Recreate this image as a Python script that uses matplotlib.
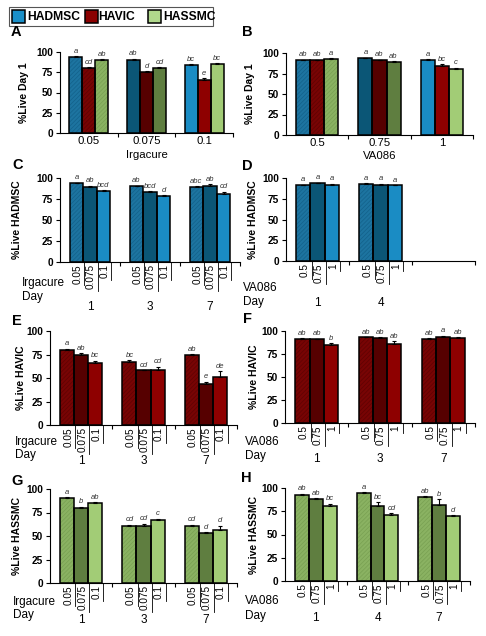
import matplotlib
matplotlib.use('Agg')
import matplotlib.pyplot as plt
import matplotlib.transforms as mtransforms
from matplotlib.patches import Rectangle

plt.rcParams['font.family'] = ['Liberation Sans', 'DejaVu Sans']
plt.rcParams['hatch.linewidth'] = 0.5

W, H = 486, 636

# ---------------- data ----------------
cell_types = ['HADMSC', 'HAVIC', 'HASSMC']
irg_conc = ['0.05', '0.075', '0.1']
va_conc = ['0.5', '0.75', '1']

# Day 1 panels: rows = concentration group, columns = cell type
a_vals = [[94, 80, 90], [90, 75, 80], [84, 66, 85]]
a_errs = [[1, 1, 1], [1.5, 1.5, 1], [1, 1.5, 1]]
a_sig = [['a', 'cd', 'ab'], ['ab', 'd', 'cd'], ['bc', 'e', 'bc']]

b_vals = [[91, 91, 93], [94, 91, 89], [92, 84, 81]]
b_errs = [[1, 1, 0.5], [0.5, 1, 1], [0.5, 2.5, 1]]
b_sig = [['ab', 'ab', 'a'], ['a', 'ab', 'ab'], ['a', 'bc', 'c']]

# time course panels: rows = day, columns = concentration
c_days = ['1', '3', '7']
c_vals = [[94, 89, 84], [90, 83, 79], [89, 91, 81]]
c_errs = [[0.5, 2, 1.5], [1, 1.5, 0.5], [1, 1.5, 2.5]]
c_sig = [['a', 'ab', 'bcd'], ['ab', 'bcd', 'd'], ['abc', 'ab', 'cd']]

d_days = ['1', '4', '']
d_vals = [[91, 94, 92], [93, 92, 91]]
d_errs = [[1, 0.5, 1], [0.5, 1, 0.5]]
d_sig = [['a', 'a', 'a'], ['a', 'a', 'a']]

e_days = ['1', '3', '7']
e_vals = [[80, 75, 66], [67, 58, 59], [74, 44, 51]]
e_errs = [[1, 1.5, 2.5], [2, 0.5, 3], [1.5, 2, 6]]
e_sig = [['a', 'ab', 'bc'], ['bc', 'cd', 'cd'], ['ab', 'e', 'de']]

f_days = ['1', '3', '7']
f_vals = [[91, 91, 85], [93, 92, 86], [91, 94, 92]]
f_errs = [[1, 0.5, 2], [0.5, 1, 3], [1.5, 1, 1.5]]
f_sig = [['ab', 'ab', 'b'], ['ab', 'ab', 'ab'], ['ab', 'a', 'ab']]

g_days = ['1', '3', '7']
g_vals = [[90, 80, 85], [61, 61, 67], [61, 53, 56]]
g_errs = [[1, 1, 1], [1, 2, 1.5], [1, 1, 5]]
g_sig = [['a', 'b', 'ab'], ['cd', 'cd', 'c'], ['cd', 'd', 'd']]

h_days = ['1', '4', '7']
h_vals = [[93, 88, 81], [95, 81, 71], [90, 82, 70]]
h_errs = [[1, 1, 2], [0.5, 4, 2], [1, 6, 1]]
h_sig = [['ab', 'ab', 'bc'], ['a', 'bc', 'cd'], ['ab', 'b', 'd']]

# shades per cell type: hatched (low conc), dark (mid), bright (high)
shades = [['#1d74a0', '#0b5676', '#1a8cc4'],
          ['#780404', '#560000', '#8e0000'],
          ['#8ab262', '#5f7e40', '#a2cc76']]
hatch_colors = ['#13618a', '#5e0202', '#78a052']
legend_colors = ['#1a8fc8', '#8b0000', '#b0d88c']

BW = 0.225

fig = plt.figure(figsize=(W / 100, H / 100), dpi=100)


def add_ax(x0, y0, x1, y1):
    return fig.add_axes([x0 / W, 1 - y1 / H, (x1 - x0) / W, (y1 - y0) / H])


def ftext(x, y, s, **kw):
    fig.text(x / W, 1 - y / H, s, **kw)


def style_axes(ax, ylabel_x, ylabel_y, ylabel):
    ax.set_xlim(-0.5, 2.5)
    ax.set_ylim(0, 100)
    ax.set_yticks([0, 25, 50, 75, 100])
    ax.set_yticklabels(['0', '25', '50', '75', '100'], fontsize=7.3, fontweight='bold')
    ax.tick_params(axis='y', length=3, width=0.8, pad=2)
    ax.set_xticks([0.5, 1.5, 2.5], minor=True)
    ax.tick_params(axis='x', which='minor', length=3, width=0.8)
    for s in ['top', 'right']:
        ax.spines[s].set_visible(False)
    for s in ['left', 'bottom']:
        ax.spines[s].set_linewidth(0.8)
    ax.patch.set_alpha(0)
    ftext(ylabel_x, ylabel_y, ylabel, rotation=90, ha='center', va='center',
          fontsize=7.5, fontweight='bold')


def draw_bars(ax, vals, errs, sig, color_of):
    for g, (gv, ge, gs) in enumerate(zip(vals, errs, sig)):
        for i in range(3):
            x = g + (i - 1) * BW
            cell, shade = color_of(g, i)
            if shade == 0:
                ax.bar(x, gv[i], BW, color=shades[cell][shade], edgecolor=hatch_colors[cell],
                       hatch='////////', linewidth=0, zorder=2)
            else:
                ax.bar(x, gv[i], BW, color=shades[cell][shade], linewidth=0, zorder=2)
            ax.bar(x, gv[i], BW, fill=False, edgecolor='black', linewidth=1.1, zorder=3)
            ax.errorbar(x, gv[i], yerr=[[0], [ge[i]]], fmt='none', ecolor='black',
                        elinewidth=0.8, capsize=1.5, capthick=0.8, zorder=4)
            ax.annotate(gs[i], (x, gv[i] + ge[i]), xytext=(0, 1), textcoords='offset points',
                        ha='center', va='bottom', fontsize=5.5, style='italic', color='#333333')


def under_labels(ax, n_filled, conc, days, box, row_name, row_x, row_y, day_y, num_y):
    x0, y0, x1, y1 = box
    ax_h = y1 - y0
    trans = mtransforms.blended_transform_factory(ax.transData, ax.transAxes)
    em = 10.0
    for g in range(n_filled):
        for i, lab in enumerate(conc):
            x = g + (i - 1) * BW
            ax.annotate(lab, (x, 0), xycoords=trans, xytext=(0.8, -1.5), textcoords='offset points',
                        rotation=90, ha='center', va='top', fontsize=7.2, annotation_clip=False)
            L = sum(0.556 if c.isdigit() else 0.278 for c in lab) * em + 4
            xl = x + BW / 2 + 0.02
            ax.plot([xl, xl], [0, -L / ax_h], transform=trans, color='black', lw=0.6,
                    clip_on=False)
    gw = (x1 - x0) / 3
    for g, d in enumerate(days):
        ftext(x0 + (g + 0.5) * gw, num_y, d, ha='center', va='center', fontsize=8.5)
    ftext(row_x, row_y, row_name, ha='left', va='center', fontsize=8.5)
    ftext(row_x, day_y, 'Day', ha='left', va='center', fontsize=8.5)


# ---------------- legend ----------------
fig.add_artist(Rectangle((9 / W, 1 - 26 / H), 204 / W, 19 / H, transform=fig.transFigure,
                         facecolor='white', edgecolor='#555555', linewidth=0.8))
for cell, (sx, tx) in enumerate([(12, 27), (85, 98), (148, 163)]):
    fig.add_artist(Rectangle((sx / W, 1 - 23 / H), 13 / W, 13 / H, transform=fig.transFigure,
                             facecolor=legend_colors[cell], edgecolor='black', linewidth=1.1))
    ftext(tx, 17, cell_types[cell], ha='left', va='center', fontsize=8.7, fontweight='bold')

# ---------------- panel A ----------------
box = (60, 52, 233, 133)
ax = add_ax(*box)
draw_bars(ax, a_vals, a_errs, a_sig, lambda g, i: (i, g))
style_axes(ax, 24, 93, '%Live Day 1')
ax.set_xticks([0, 1, 2])
ax.set_xticklabels(irg_conc, fontsize=8.2)
ax.tick_params(axis='x', which='major', length=0, pad=2)
ftext((box[0] + box[2]) / 2, 155, 'Irgacure', ha='center', va='center', fontsize=8.2)
ftext(16, 32, 'A', ha='center', va='center', fontsize=10.5, fontweight='bold')

# ---------------- panel B ----------------
box = (286, 53, 473, 135)
ax = add_ax(*box)
draw_bars(ax, b_vals, b_errs, b_sig, lambda g, i: (i, g))
style_axes(ax, 250, 94, '%Live Day 1')
ax.set_xticks([0, 1, 2])
ax.set_xticklabels(va_conc, fontsize=8.2)
ax.tick_params(axis='x', which='major', length=0, pad=2)
ftext((box[0] + box[2]) / 2, 156, 'VA086', ha='center', va='center', fontsize=8.2)
ftext(247, 32, 'B', ha='center', va='center', fontsize=10.5, fontweight='bold')

# ---------------- panels C - H ----------------
panels = [
    # letter, box, vals, errs, sig, days, cell, conc, row name, ylabel, ylabel x, letter pos, row x, rows y
    ('C', (60, 178, 240, 262), c_vals, c_errs, c_sig, c_days, 0, irg_conc, 'Irgacure',
     '%Live HADMSC', 17, (18, 165), 22, (283, 297, 307)),
    ('D', (286, 178, 475, 261), d_vals, d_errs, d_sig, d_days, 0, va_conc, 'VA086',
     '%Live HADMSC', 253, (247, 166), 243, (288, 302, 303)),
    ('E', (50, 331, 237, 425), e_vals, e_errs, e_sig, e_days, 1, irg_conc, 'Irgacure',
     '%Live HAVIC', 21, (17, 321), 15, (442, 455, 461)),
    ('F', (285, 331, 475, 423), f_vals, f_errs, f_sig, f_days, 1, va_conc, 'VA086',
     '%Live HAVIC', 254, (247, 319), 245, (442, 456, 459)),
    ('G', (50, 489, 237, 583), g_vals, g_errs, g_sig, g_days, 2, irg_conc, 'Irgacure',
     '%Live HASSMC', 17, (17, 481), 13, (602, 615, 620)),
    ('H', (285, 488, 470, 581), h_vals, h_errs, h_sig, h_days, 2, va_conc, 'VA086',
     '%Live HASSMC', 254, (246, 478), 245, (601, 616, 618)),
]

for (letter, box, vals, errs, sig, days, cell, conc, row_name, ylab, ylx, lpos,
     row_x, rows_y) in panels:
    ax = add_ax(*box)
    draw_bars(ax, vals, errs, sig, lambda g, i, c=cell: (c, i))
    style_axes(ax, ylx, (box[1] + box[3]) / 2, ylab)
    ax.set_xticks([])
    under_labels(ax, len(vals), conc, days, box, row_name, row_x, rows_y[0], rows_y[1], rows_y[2])
    ftext(lpos[0], lpos[1], letter, ha='center', va='center', fontsize=10.5, fontweight='bold')

fig.savefig('out.png', dpi=100)
